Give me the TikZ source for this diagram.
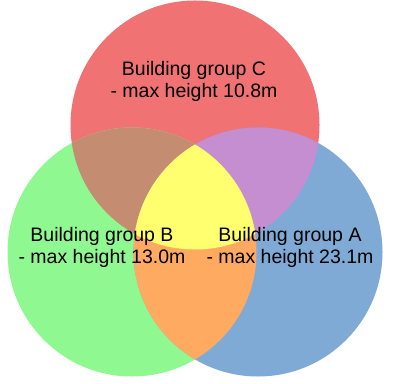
\documentclass[tikz,border=0pt]{standalone}
\usepackage{fontspec}
\setmainfont{Liberation Sans}
\definecolor{grpC}{HTML}{F07272}
\definecolor{grpB}{HTML}{90F890}
\definecolor{grpA}{HTML}{80AAD6}
\definecolor{grpCB}{HTML}{C48C70}
\definecolor{grpCA}{HTML}{C48ED0}
\definecolor{grpBA}{HTML}{FFAA60}
\definecolor{grpCBA}{HTML}{FFFF70}
\begin{document}
\begin{tikzpicture}
[x=1pt,y=1pt,
  labelDecorate/.style={align=center,inner sep=0pt,
    font=\fontsize{19.5}{22}\selectfont}]
\useasboundingbox (0,0) rectangle (414,383);
%% circle centres
\foreach \cname/\x/\y in {C/195/258, B/132/131, A/258/131}
{
  \coordinate (c\cname) at (\x,\y);
}
%% circles
\foreach \cname in {C,B,A}
{
  \fill[grp\cname] (c\cname) circle [radius=124.5pt];
}
%% overlaps
\begin{scope}
  \clip (cC) circle [radius=124.5pt];
  \fill[grpCB] (cB) circle [radius=124.5pt];
  \fill[grpCA] (cA) circle [radius=124.5pt];
  \clip (cB) circle [radius=124.5pt];
  \fill[grpCBA] (cA) circle [radius=124.5pt];
\end{scope}
\begin{scope}
  \clip (cB) circle [radius=124.5pt];
  \clip (cA) circle [radius=124.5pt];
  \fill[grpBA] (cA) circle [radius=124.5pt];
  \clip (cC) circle [radius=124.5pt];
  \fill[grpCBA] (cA) circle [radius=124.5pt];
\end{scope}
%% labels
\foreach \lname/\x/\y/\grp/\h in {
  labC/194/302/C/10.8, labB/102/136/B/13.0, labA/290/136/A/23.1}
{
  \node (\lname) at (\x,\y) [labelDecorate] {Building group \grp\\- max height \h m};
}
\end{tikzpicture}
\end{document}
